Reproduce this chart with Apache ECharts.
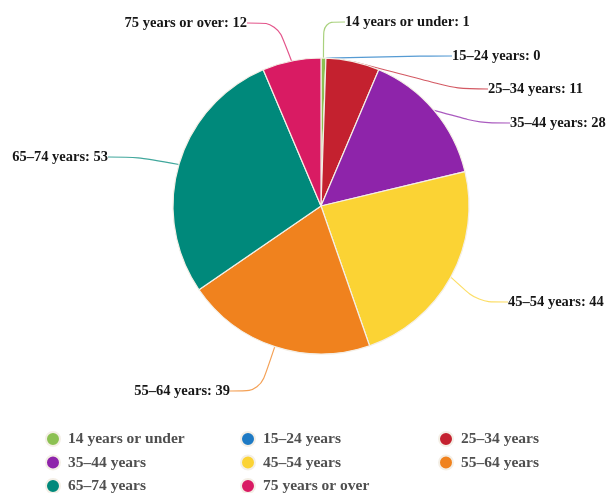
<!DOCTYPE html>
<html>
<head>
<meta charset="utf-8">
<script src="https://cdn.jsdelivr.net/npm/echarts@6/dist/echarts.min.js"></script>
<style>
  html, body { margin: 0; padding: 0; background: #ffffff; }
  #chart { width: 608px; height: 493px; }
</style>
</head>
<body>
<div id="chart"></div>
<script>
// Age groups and counts
const categories = ['14 years or under', '15–24 years', '25–34 years', '35–44 years',
                    '45–54 years', '55–64 years', '65–74 years', '75 years or over'];
const counts = [1, 0, 11, 28, 44, 39, 53, 12];
const colors = ['#8cc152', '#1e7ac4', '#c4212f', '#8e24aa', '#fbd334', '#f0821e', '#00897b', '#d91b63'];

// Where each slice label sits (x, y, text alignment)
const labelSpots = [
  [345, 22, 'left'], [452, 56, 'left'], [488, 89, 'left'], [510, 123, 'left'],
  [508, 302, 'left'], [230, 391, 'right'], [108, 157, 'right'], [247, 23, 'right']
];

const serif = '"Liberation Serif", "DejaVu Serif", serif';

// Legend laid out in three columns
const legendColumns = [
  [categories[0], categories[3], categories[6]],
  [categories[1], categories[4], categories[7]],
  [categories[2], categories[5]]
];
const legendLefts = [45, 240, 438];

const chart = echarts.init(document.getElementById('chart'), null, { renderer: 'canvas' });
chart.setOption({
  animation: false,
  color: colors,
  legend: legendColumns.map((col, i) => ({
    data: col,
    orient: 'vertical',
    left: legendLefts[i],
    top: 431,
    height: 70,
    padding: 0,
    icon: 'circle',
    itemWidth: 14,
    itemHeight: 14,
    itemGap: 7.5,
    textStyle: {
      fontFamily: serif, fontWeight: 'bold', fontSize: 15.5, lineHeight: 14,
      color: '#4f4f4f', padding: [0, 0, 0, 3]
    }
  })),
  series: [{
    type: 'pie',
    center: [321, 206],
    radius: 148,
    startAngle: 90,
    clockwise: true,
    stillShowZeroSum: true,
    minShowLabelAngle: 0,
    avoidLabelOverlap: false,
    data: categories.map((name, i) => ({ name, value: counts[i] })),
    itemStyle: { borderColor: '#f4efe6', borderWidth: 1.2 },
    label: {
      formatter: '{b}: {c}',
      fontFamily: serif,
      fontWeight: 'bold',
      fontSize: 14.5,
      color: '#161616'
    },
    labelLine: { show: true, length: 15, length2: 30, smooth: 0.3, lineStyle: { width: 1.2, opacity: 0.75 } },
    labelLayout: function (params) {
      const s = labelSpots[params.dataIndex];
      return { x: s[0], y: s[1], align: s[2], verticalAlign: 'middle' };
    },
    emphasis: { disabled: true }
  }]
});
</script>
</body>
</html>
